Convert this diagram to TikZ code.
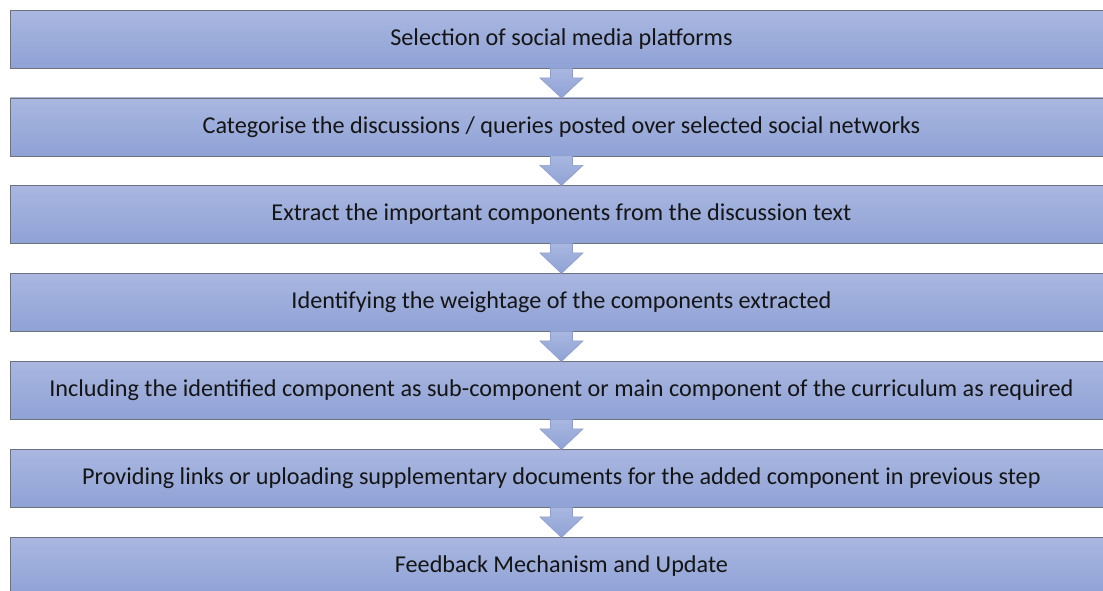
\documentclass[tikz,border=0pt]{standalone}
\usepackage{fontspec}
\setmainfont{Carlito}
\usetikzlibrary{calc}
\definecolor{boxtop}{HTML}{A9B7E0}
\definecolor{boxbot}{HTML}{8FA2D6}
\definecolor{boxedge}{HTML}{6E717E}
\definecolor{arrowedge}{HTML}{8D9CC8}
\definecolor{labeltext}{HTML}{151515}
\tikzset{
  stepbox/.style={draw=boxedge, line width=0.9pt, top color=boxtop, bottom color=boxbot,
    minimum width=1102pt, minimum height=58pt, inner sep=0pt, anchor=north west,
    font=\fontsize{24.2}{28}\selectfont, text=labeltext},
  flowarrow/.style={draw=arrowedge, line width=0.6pt, top color=boxtop, bottom color=boxbot, line join=miter}
}
\begin{document}
\begin{tikzpicture}[x=1pt,y=-1pt]
\useasboundingbox (0,0) rectangle (1103,590);
\clip (0,0) rectangle (1103,590);
\fill[white] (0,0) rectangle (1103,590);
\node[stepbox] (b1) at (10,10)  {Selection of social media platforms};
\node[stepbox] (b2) at (10,97.5) {Categorise the discussions / queries posted over selected social networks};
\node[stepbox] (b3) at (10,185) {Extract the important components from the discussion text};
\node[stepbox] (b4) at (10,273) {Identifying the weightage of the components extracted};
\node[stepbox] (b5) at (10,361) {Including the identified component as sub-component or main component of the curriculum as required};
\node[stepbox] (b6) at (10,449) {Providing links or uploading supplementary documents for the added component in previous step};
\node[stepbox] (b7) at (10,537) {Feedback Mechanism and Update};
% block arrows joining consecutive steps
\foreach \a/\b in {b1/b2,b2/b3,b3/b4,b4/b5,b5/b6,b6/b7}{
  \draw[flowarrow] ($(\a.south)+(-11,-0.5)$) -- ($(\a.south)+(11,-0.5)$) -- ($(\a.south)+(11,9)$)
    -- ($(\a.south)+(21.5,9)$) -- ($(\b.north)+(0,0.5)$) -- ($(\a.south)+(-21.5,9)$)
    -- ($(\a.south)+(-11,9)$) -- cycle;
}
\end{tikzpicture}
\end{document}
